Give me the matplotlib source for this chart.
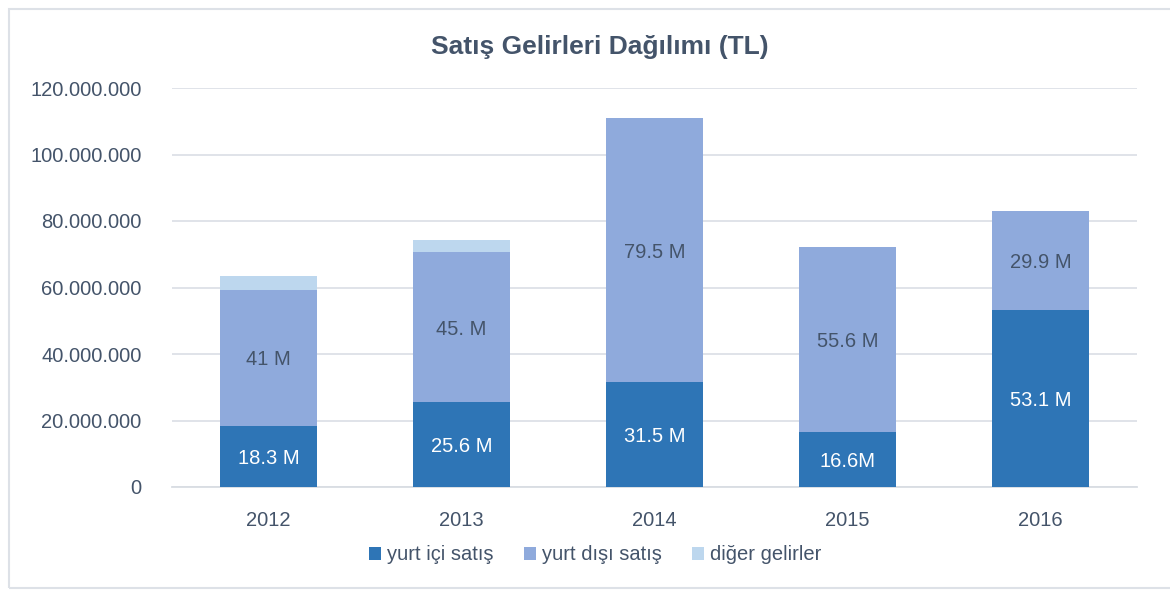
import numpy as np
import matplotlib.pyplot as plt
from matplotlib.patches import Rectangle

years = ["2012", "2013", "2014", "2015", "2016"]
yurt_ici = [18.3e6, 25.6e6, 31.5e6, 16.6e6, 53.1e6]
yurt_disi = [41.0e6, 45.0e6, 79.5e6, 55.6e6, 29.9e6]
diger = [4.2e6, 3.6e6, 0.0, 0.0, 0.0]
ici_labels = ["18.3 M", "25.6 M", "31.5 M", "16.6M", "53.1 M"]
disi_labels = ["41 M", "45. M", "79.5 M", "55.6 M", "29.9 M"]
yticks = [0, 20e6, 40e6, 60e6, 80e6, 100e6, 120e6]
ytick_labels = ["0", "20.000.000", "40.000.000", "60.000.000", "80.000.000", "100.000.000", "120.000.000"]

plt.rcParams['font.family'] = ['Liberation Sans', 'DejaVu Sans']
fs, fs_title = 14.5, 19

txt = "#44546A"
c_ici = "#2E75B6"
c_disi = "#8FAADC"
c_diger = "#BDD7EE"

fig = plt.figure(figsize=(11.7, 5.9), dpi=100)
ax = fig.add_axes([172/1170, 1-487/590, (1137-172)/1170, (487-88)/590])

x = np.arange(len(years))
w = 0.5
ici = np.array(yurt_ici)
disi = np.array(yurt_disi)
ax.bar(x, ici, w, color=c_ici, label="yurt içi satış", zorder=3)
ax.bar(x, disi, w, bottom=ici, color=c_disi, label="yurt dışı satış", zorder=3)
ax.bar(x, diger, w, bottom=ici + disi, color=c_diger, label="diğer gelirler", zorder=3)

# etiketler: segmentlerin ortasında
for i in range(len(years)):
    ax.text(x[i], ici[i] / 2, ici_labels[i], ha="center", va="center_baseline",
            color="white", fontsize=fs, zorder=4)
    ax.text(x[i], ici[i] + disi[i] / 2, disi_labels[i], ha="center", va="center_baseline",
            color=txt, fontsize=fs, zorder=4)

ax.set_xlim(-0.5, 4.5)
ax.set_ylim(0, 120e6)
ax.set_xticks(x)
ax.set_xticklabels(years)
ax.set_yticks(yticks)
ax.set_yticklabels(ytick_labels)
ax.tick_params(axis="both", length=0, labelsize=fs, labelcolor=txt)
ax.tick_params(axis="x", pad=17)
ax.tick_params(axis="y", pad=22)
ax.grid(axis="y", color="#DDE1E7", linewidth=1.3, zorder=0)
for s in ["top", "right", "left"]:
    ax.spines[s].set_visible(False)
ax.spines["bottom"].set_color("#D9DDE3")
ax.spines["bottom"].set_linewidth(1.3)

fig.text(600/1170, 1-47/590, "Satış Gelirleri Dağılımı (TL)", ha="center", va="center",
         fontsize=fs_title, fontweight="bold", color=txt)

leg = fig.legend(loc="center", bbox_to_anchor=(595/1170, 1-555/590), ncol=3, frameon=False,
                 fontsize=fs, handlelength=0.6, handleheight=0.6, handletextpad=0.3,
                 columnspacing=1.5, labelcolor=txt)

fig.patches.append(Rectangle((9/1170, 2/590), 1.0, 1-11/590, transform=fig.transFigure,
                             fill=False, edgecolor="#DDE1E7", linewidth=1.5))

fig.savefig("out.png")
